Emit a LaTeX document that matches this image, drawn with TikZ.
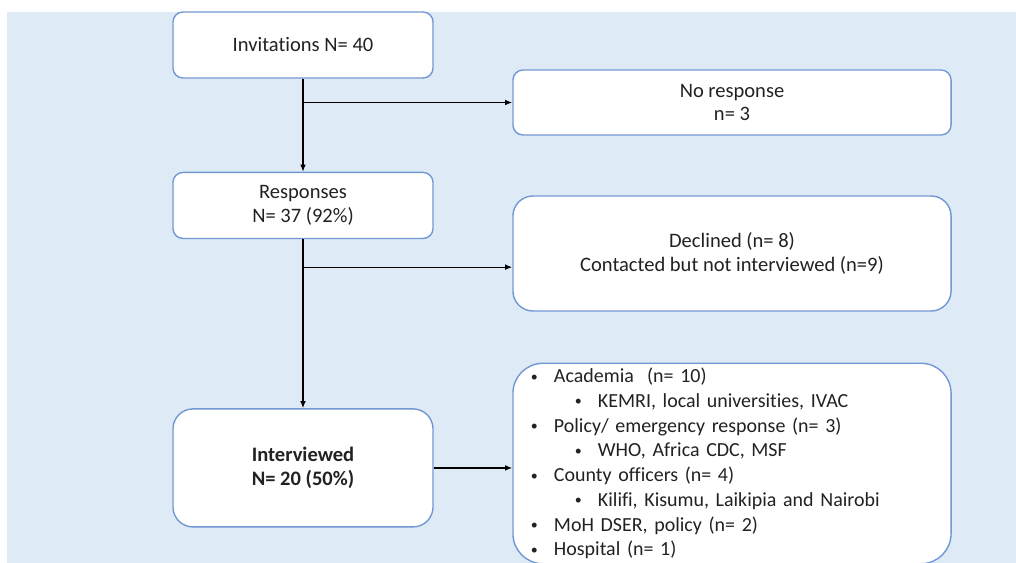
\documentclass[tikz,border=0pt]{standalone}
\usepackage{fontspec}
\setmainfont{Carlito}[Ligatures=NoCommon]
\usetikzlibrary{positioning, arrows.meta, calc}

\definecolor{bgblue}{RGB}{222,234,246}
\definecolor{lineblue}{RGB}{114,152,212}
\definecolor{inkgray}{RGB}{34,34,34}

\newcommand{\dotmark}{\raisebox{0.15ex}{\scalebox{0.7}{\textbullet}}}
\newcommand{\lvlone}[1]{\makebox[0.575cm][l]{\dotmark}#1}
\newcommand{\lvltwo}[1]{\hspace*{1.1cm}\makebox[0.575cm][l]{\dotmark}#1}

\begin{document}
\begin{tikzpicture}[
        x=0.025cm, y=-0.025cm,
        font=\fontsize{14.6}{17}\selectfont,
        text=inkgray,
        stage/.style={draw=lineblue, line width=1pt, fill=white, rounded corners=2.5mm, align=center, minimum width=6.5cm, minimum height=1.65cm},
        side/.style={draw=lineblue, line width=1pt, fill=white, rounded corners=2.5mm, align=center, minimum width=10.95cm, minimum height=1.625cm},
        arrow/.style={-{Latex[length=5pt, width=4pt]}, line width=0.9pt}
    ]
    % Frame and background
    \useasboundingbox (0,0) rectangle (1016,563);
    \fill[bgblue] (7,12) rectangle (1016,563);

    % Main column
    \node[stage] (inv) at (303,45) {Invitations N= 40};
    \node[stage, below=2.325cm of inv] (resp) {Responses\\N= 37 (92\%)};
    \node[stage, rounded corners=5mm, minimum height=2.95cm, below=4.225cm of resp] (intv) {\textbf{Interviewed}\\\textbf{N= 20 (50\%)}};

    % Side boxes
    \node[side] (nores) at (732,102.5) {No response\\n= 3};
    \node[side, rounded corners=5mm, minimum height=2.875cm] (decl) at (732,253.5) {Declined (n= 8)\\Contacted but not interviewed (n=9)};
    \node[side, rounded corners=7.5mm, minimum height=4.975cm, text width=10.05cm, align=left, inner xsep=0.45cm,
        font=\fontsize{14.2}{17.6}\selectfont] (list) at (732,463.5) {%
        \lvlone{Academia\ \ (n= 10)}\\
        \lvltwo{KEMRI, local universities, IVAC}\\
        \lvlone{Policy/ emergency response (n= 3)}\\
        \lvltwo{WHO, Africa CDC, MSF}\\
        \lvlone{County officers (n= 4)}\\
        \lvltwo{Kilifi, Kisumu, Laikipia and Nairobi}\\
        \lvlone{MoH DSER, policy (n= 2)}\\
        \lvlone{Hospital (n= 1)}};

    % Connectors
    \coordinate (split1) at (inv.south |- nores.west);
    \coordinate (split2) at ($(resp.south)+(0,28)$);
    \draw[arrow] (inv) -- (resp);
    \draw[arrow] (split1) -- (nores.west);
    \draw[arrow] (resp) -- (intv);
    \draw[arrow] (split2) -- (split2 -| decl.west);
    \draw[arrow] (intv.east) -- (intv.east -| list.west);
\end{tikzpicture}
\end{document}
